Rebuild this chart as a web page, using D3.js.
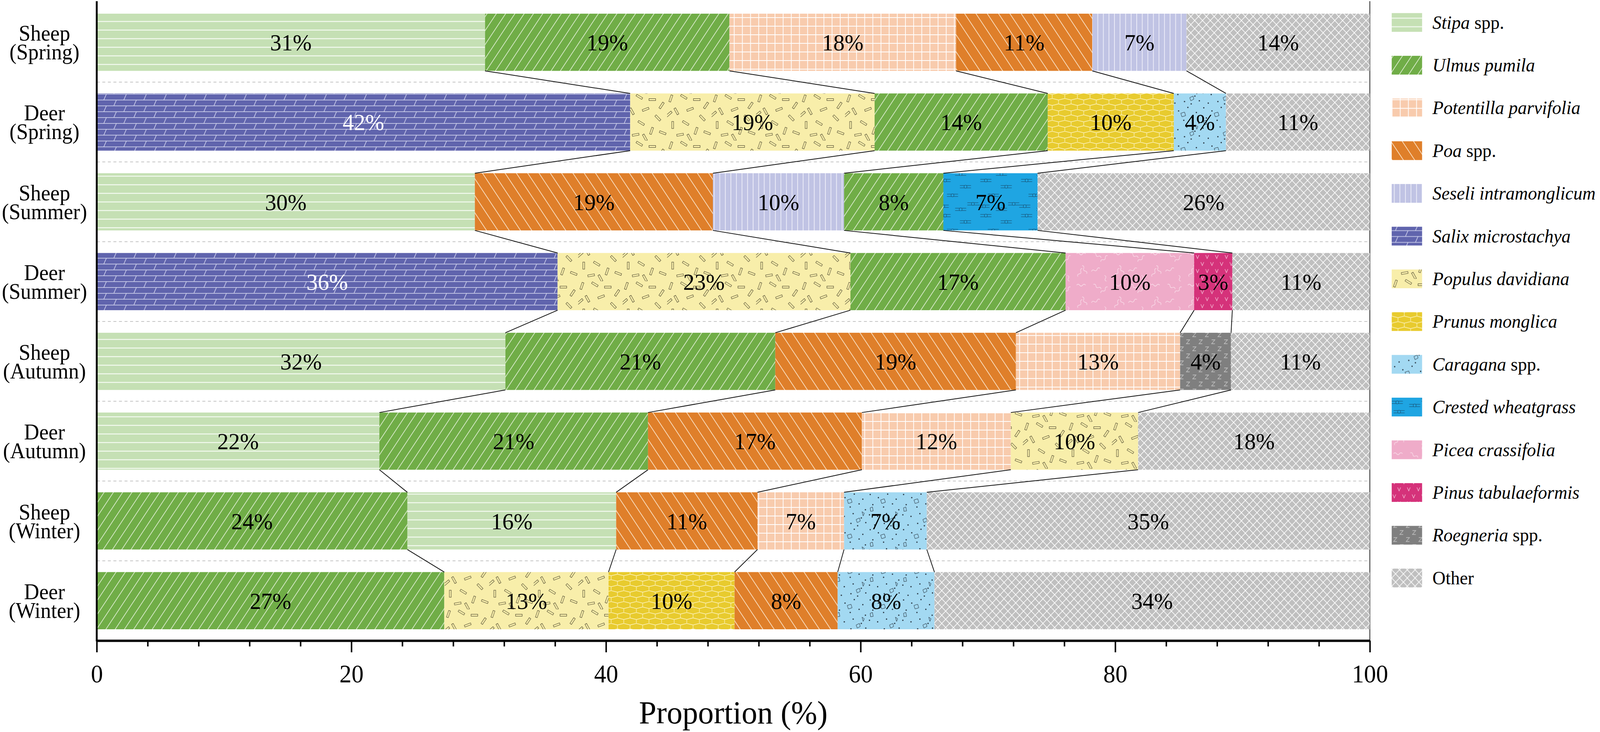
<!DOCTYPE html>
<html>
<head>
<meta charset="utf-8">
<script src="https://cdn.jsdelivr.net/npm/d3@7"></script>
<style>
  html, body { margin: 0; padding: 0; background: #fff; overflow: hidden; }
  svg { display: block; width: 100vw; height: 100vh; }
</style>
</head>
<body>
<svg id="chart"></svg>
<script>
// groups, top to bottom
const groups = ["Sheep (Spring)", "Deer (Spring)", "Sheep (Summer)", "Deer (Summer)",
                "Sheep (Autumn)", "Deer (Autumn)", "Sheep (Winter)", "Deer (Winter)"];

const species = ["Stipa spp.", "Ulmus pumila", "Potentilla parvifolia", "Poa spp.",
                 "Seseli intramonglicum", "Salix microstachya", "Populus davidiana",
                 "Prunus monglica", "Caragana spp.", "Crested wheatgrass",
                 "Picea crassifolia", "Pinus tabulaeformis", "Roegneria spp.", "Other"];

// order of segments in each bar (left to right)
const barSpecies = [
  ["Stipa spp.", "Ulmus pumila", "Potentilla parvifolia", "Poa spp.", "Seseli intramonglicum", "Other"],
  ["Salix microstachya", "Populus davidiana", "Ulmus pumila", "Prunus monglica", "Caragana spp.", "Other"],
  ["Stipa spp.", "Poa spp.", "Seseli intramonglicum", "Ulmus pumila", "Crested wheatgrass", "Other"],
  ["Salix microstachya", "Populus davidiana", "Ulmus pumila", "Picea crassifolia", "Pinus tabulaeformis", "Other"],
  ["Stipa spp.", "Ulmus pumila", "Poa spp.", "Potentilla parvifolia", "Roegneria spp.", "Other"],
  ["Stipa spp.", "Ulmus pumila", "Poa spp.", "Potentilla parvifolia", "Populus davidiana", "Other"],
  ["Ulmus pumila", "Stipa spp.", "Poa spp.", "Potentilla parvifolia", "Caragana spp.", "Other"],
  ["Ulmus pumila", "Populus davidiana", "Prunus monglica", "Poa spp.", "Caragana spp.", "Other"]
];

// proportions (%)
const barValues = [
  [30.5, 19.2, 17.8, 10.7, 7.4, 14.4],
  [41.9, 19.2, 13.6, 9.9, 4.1, 11.3],
  [29.7, 18.7, 10.3, 7.8, 7.4, 26.1],
  [36.2, 23.0, 16.9, 10.1, 3.0, 10.8],
  [32.1, 21.2, 18.9, 12.9, 4.0, 10.9],
  [22.2, 21.1, 16.8, 11.7, 10.0, 18.2],
  [24.4, 16.4, 11.1, 6.8, 6.5, 34.8],
  [27.3, 12.9, 9.9, 8.1, 7.6, 34.2]
];

const xTicks = [0, 20, 40, 60, 80, 100];
const xMinorTicks = d3.range(0, 101, 4).filter(d => d % 20 !== 0);

const colors = {
  "Stipa spp.": "#c5e0b4",
  "Ulmus pumila": "#70ad47",
  "Potentilla parvifolia": "#f8cbad",
  "Poa spp.": "#df7f2a",
  "Seseli intramonglicum": "#c0c3e4",
  "Salix microstachya": "#6064ad",
  "Populus davidiana": "#f8eeaa",
  "Prunus monglica": "#e8cb2e",
  "Caragana spp.": "#a3d9f2",
  "Crested wheatgrass": "#1fa5e2",
  "Picea crassifolia": "#efacc9",
  "Pinus tabulaeformis": "#d5327a",
  "Roegneria spp.": "#7f7f7f",
  "Other": "#bfbfbf"
};

const FONT = "'Liberation Serif', 'DejaVu Serif', serif";
const W = 4317, H = 1874;
// drawn in a 4317x1874 coordinate box, stretched to whatever the window really is
const svg = d3.select("#chart").attr("viewBox", `0 0 ${W} ${H}`)
  .attr("preserveAspectRatio", "none")
  .style("font-family", FONT);
const defs = svg.append("defs");

const x = d3.scaleLinear().domain([0, 100]).range([261, 3696]);
const y = d3.scaleBand().domain(groups).range([35, 1611]).paddingInner(0.283).paddingOuter(0);
const axisY = 1640;

const pid = s => "pat-" + species.indexOf(s);

// the serif font is a bit wider than the original's; squeeze text horizontally
function widthOf(str, size, italic) {
  const t = svg.append("text").style("font-family", FONT).style("font-size", size + "px")
    .style("font-style", italic ? "italic" : "normal").text(str);
  const w = t.node().getComputedTextLength();
  t.remove();
  return w;
}
function squeeze(sel, s) {
  sel.attr("transform", function() {
    const cx = +this.getAttribute("x") || 0;
    return `translate(${cx},0) scale(${s},1) translate(${-cx},0)`;
  });
}

// ---- fill patterns ----
function pattern(name, w, h, transform) {
  const p = defs.append("pattern").attr("id", pid(name))
    .attr("patternUnits", "userSpaceOnUse").attr("width", w).attr("height", h);
  if (transform) p.attr("patternTransform", transform);
  p.append("rect").attr("width", w).attr("height", h).attr("fill", colors[name]);
  return p;
}
const white = "#ffffff";

pattern("Stipa spp.", 22, 22).append("line")
  .attr("x1", 0).attr("x2", 22).attr("y1", 11).attr("y2", 11)
  .attr("stroke", "#f4faf0").attr("stroke-width", 2.5);

pattern("Ulmus pumila", 20.5, 20.5, "rotate(35)").append("line")
  .attr("x1", 10).attr("x2", 10).attr("y1", 0).attr("y2", 20.5)
  .attr("stroke", "#eef7e6").attr("stroke-width", 1.6);

pattern("Poa spp.", 25, 25, "rotate(-35)").append("line")
  .attr("x1", 12).attr("x2", 12).attr("y1", 0).attr("y2", 25)
  .attr("stroke", "#fff3e0").attr("stroke-width", 1.6);

pattern("Potentilla parvifolia", 22, 22).append("path")
  .attr("d", "M1,0V22M0,1H22").attr("stroke", white).attr("stroke-width", 2).attr("fill", "none");

pattern("Seseli intramonglicum", 15, 15).append("line")
  .attr("x1", 7).attr("x2", 7).attr("y1", 0).attr("y2", 15)
  .attr("stroke", "#f2f2fb").attr("stroke-width", 1.8);

pattern("Salix microstachya", 54, 30).append("path")
  .attr("d", "M0,1H54M0,16H54M10,16L17,1M37,31L44,16")
  .attr("stroke", "#dcdef4").attr("stroke-width", 1.6).attr("fill", "none");

{
  const p = pattern("Populus davidiana", 120, 120);
  const sticks = [[10, 12, 20], [45, 8, -60], [80, 15, 90], [105, 30, 35], [25, 45, -30],
                  [62, 40, 70], [95, 62, -45], [15, 80, 0], [50, 75, 120], [78, 95, 20],
                  [35, 105, 80], [108, 100, -70], [60, 112, 150], [5, 52, 50]];
  sticks.forEach(([cx, cy, a]) => {
    p.append("rect").attr("x", -2.5).attr("y", -9).attr("width", 5).attr("height", 18)
      .attr("transform", `translate(${cx},${cy}) rotate(${a})`)
      .attr("fill", "none").attr("stroke", "#3a3520").attr("stroke-width", 1);
  });
}

pattern("Prunus monglica", 34, 28).append("path")
  .attr("d", "M0,4L17,0L34,4M0,4V14M34,4V14M0,14L17,18L34,14M17,18V28")
  .attr("stroke", "#fff6c8").attr("stroke-width", 1.3).attr("fill", "none");

{
  const p = pattern("Caragana spp.", 90, 90);
  const dots = [[8, 6], [30, 14], [55, 5], [78, 18], [15, 32], [44, 38], [68, 30], [85, 45],
                [6, 58], [28, 62], [52, 55], [74, 66], [20, 84], [46, 80], [64, 86], [86, 78]];
  dots.forEach(([cx, cy]) => p.append("circle").attr("cx", cx).attr("cy", cy).attr("r", 1.7).attr("fill", "#1b2530"));
  ["M36,20l10,-3l3,9l-10,3z", "M8,40l6,-2l2,10l-7,1z", "M60,70l9,-4l2,8l-8,4z", "M76,50l6,4l-3,7z"]
    .forEach(d => p.append("path").attr("d", d).attr("fill", "none").attr("stroke", "#1b2530").attr("stroke-width", 1));
}

{
  const p = pattern("Crested wheatgrass", 110, 90);
  [[20, 12], [75, 28], [40, 50], [95, 72], [15, 78], [62, 86]].forEach(([cx, cy]) => {
    const g = p.append("g").attr("transform", `translate(${cx},${cy})`)
      .attr("stroke", "#15415f").attr("stroke-width", 1).attr("fill", colors["Crested wheatgrass"]);
    g.append("path").attr("d", "M-15,-3H15M-15,3H15");
    g.append("circle").attr("r", 4);
  });
}

{
  const p = pattern("Picea crassifolia", 100, 80);
  [[5, 10, 0], [50, 8, 30], [70, 30, -40], [20, 40, 60], [45, 55, -20], [80, 65, 70], [8, 68, -60]]
    .forEach(([sx, sy, a]) => {
      p.append("path").attr("d", `M${sx},${sy}q4,-5 8,0t8,0t8,0`)
        .attr("transform", `rotate(${a},${sx},${sy})`)
        .attr("fill", "none").attr("stroke", "#fbe4ee").attr("stroke-width", 1.3);
    });
}

pattern("Pinus tabulaeformis", 26, 36).append("path")
  .attr("d", "M3,5L7,14L11,5M16,23L20,32L24,23")
  .attr("stroke", "#f5c8dc").attr("stroke-width", 1.3).attr("fill", "none");

pattern("Roegneria spp.", 34, 36).append("path")
  .attr("d", "M5,6H14L5,16H14M22,24H31L22,34H31")
  .attr("stroke", "#c8c8c8").attr("stroke-width", 1.3).attr("fill", "none");

pattern("Other", 21, 21).append("path")
  .attr("d", "M0,0L21,21M21,0L0,21")
  .attr("stroke", white).attr("stroke-width", 1.6).attr("fill", "none");

// ---- frame and grid ----
const bw = y.bandwidth();
const gap = y.step() - bw;

svg.append("line").attr("x1", x(100)).attr("x2", x(100)).attr("y1", 3).attr("y2", axisY)
  .attr("stroke", "#444").attr("stroke-width", 2.5);

svg.append("g").selectAll("line").data(groups.slice(0, -1)).join("line")
  .attr("x1", x(0)).attr("x2", x(100))
  .attr("y1", d => y(d) + bw + gap / 2).attr("y2", d => y(d) + bw + gap / 2)
  .attr("stroke", "#c4c4c4").attr("stroke-width", 2).attr("stroke-dasharray", "8,7");

// ---- bars ----
const rows = groups.map((g, i) => {
  let acc = 0;
  const segs = barValues[i].map((v, j) => {
    const s = { group: g, name: barSpecies[i][j], v, x0: acc, x1: acc + v };
    acc += v;
    return s;
  });
  return { group: g, segs };
});

const barG = svg.append("g").selectAll("g").data(rows).join("g");
barG.selectAll("rect").data(d => d.segs).join("rect")
  .attr("x", d => x(d.x0)).attr("width", d => x(d.x1) - x(d.x0))
  .attr("y", d => y(d.group)).attr("height", bw)
  .attr("fill", d => `url(#${pid(d.name)})`);

const barText = barG.selectAll("text").data(d => d.segs).join("text")
  .attr("x", d => x((d.x0 + d.x1) / 2)).attr("y", d => y(d.group) + bw / 2 + 21)
  .attr("text-anchor", "middle").style("font-size", "60px")
  .attr("fill", d => d.name === "Salix microstachya" ? "#ffffff" : "#000000")
  .text(d => Math.round(d.v) + "%");
squeeze(barText, 112 / widthOf("31%", 60));

// ---- connector lines between boundaries of adjacent bars ----
const links = [];
for (let i = 0; i < rows.length - 1; i++) {
  for (let j = 1; j < 6; j++) {
    links.push({ a: rows[i].segs[j].x0, ga: rows[i].group, b: rows[i + 1].segs[j].x0, gb: rows[i + 1].group });
  }
}
svg.append("g").selectAll("line").data(links).join("line")
  .attr("x1", d => x(d.a)).attr("y1", d => y(d.ga) + bw)
  .attr("x2", d => x(d.b)).attr("y2", d => y(d.gb))
  .attr("stroke", "#111").attr("stroke-width", 2);

// ---- axes ----
svg.append("line").attr("x1", x(0)).attr("x2", x(0)).attr("y1", 3).attr("y2", axisY + 2)
  .attr("stroke", "#000").attr("stroke-width", 5);

const gx = svg.append("g").attr("transform", `translate(0,${axisY})`)
  .call(d3.axisBottom(x).tickValues(xTicks).tickSize(30).tickSizeOuter(0).tickPadding(30));
gx.attr("font-family", null);
gx.select(".domain").attr("stroke-width", 6);
gx.selectAll(".tick line").attr("stroke-width", 4);
const tickText = gx.selectAll(".tick text").style("font-size", "66px").attr("fill", "#000");
squeeze(tickText, 65 / widthOf("20", 66));

const gm = svg.append("g").attr("transform", `translate(0,${axisY})`)
  .call(d3.axisBottom(x).tickValues(xMinorTicks).tickSize(15).tickFormat(""));
gm.select(".domain").remove();
gm.selectAll(".tick line").attr("stroke-width", 4);

const title = svg.append("text").attr("x", x(50)).attr("y", 1852).attr("text-anchor", "middle")
  .style("font-size", "82px").text("Proportion (%)");
squeeze(title, 509 / widthOf("Proportion (%)", 82));

// category labels, two lines each
const catG = svg.append("g").selectAll("text").data(groups).join("text")
  .attr("x", 120).attr("text-anchor", "middle").style("font-size", "56px");
catG.append("tspan").attr("x", 120).attr("y", d => y(d) + bw / 2 - 4).text(d => d.split(" ")[0]);
catG.append("tspan").attr("x", 120).attr("y", d => y(d) + bw / 2 + 44).text(d => d.split(" ")[1]);
squeeze(catG, 230 / widthOf("(Summer)", 56));

// ---- legend ----
const leg = svg.append("g").selectAll("g").data(species).join("g")
  .attr("transform", (d, i) => `translate(3755,${57.5 + i * 109.4})`);
leg.append("rect").attr("x", 0).attr("y", -24).attr("width", 82).attr("height", 48)
  .attr("fill", d => `url(#${pid(d)})`);
const lt = leg.append("text").attr("x", 110).attr("y", 16).style("font-size", "48px");
lt.each(function(d) {
  const t = d3.select(this);
  if (d === "Other") { t.text(d); return; }
  if (d.endsWith(" spp.")) {
    t.append("tspan").attr("font-style", "italic").text(d.replace(" spp.", ""));
    t.append("tspan").text(" spp.");
  } else {
    t.append("tspan").attr("font-style", "italic").text(d);
  }
});
squeeze(lt, 440 / widthOf("Seseli intramonglicum", 48, true));
</script>
</body>
</html>
